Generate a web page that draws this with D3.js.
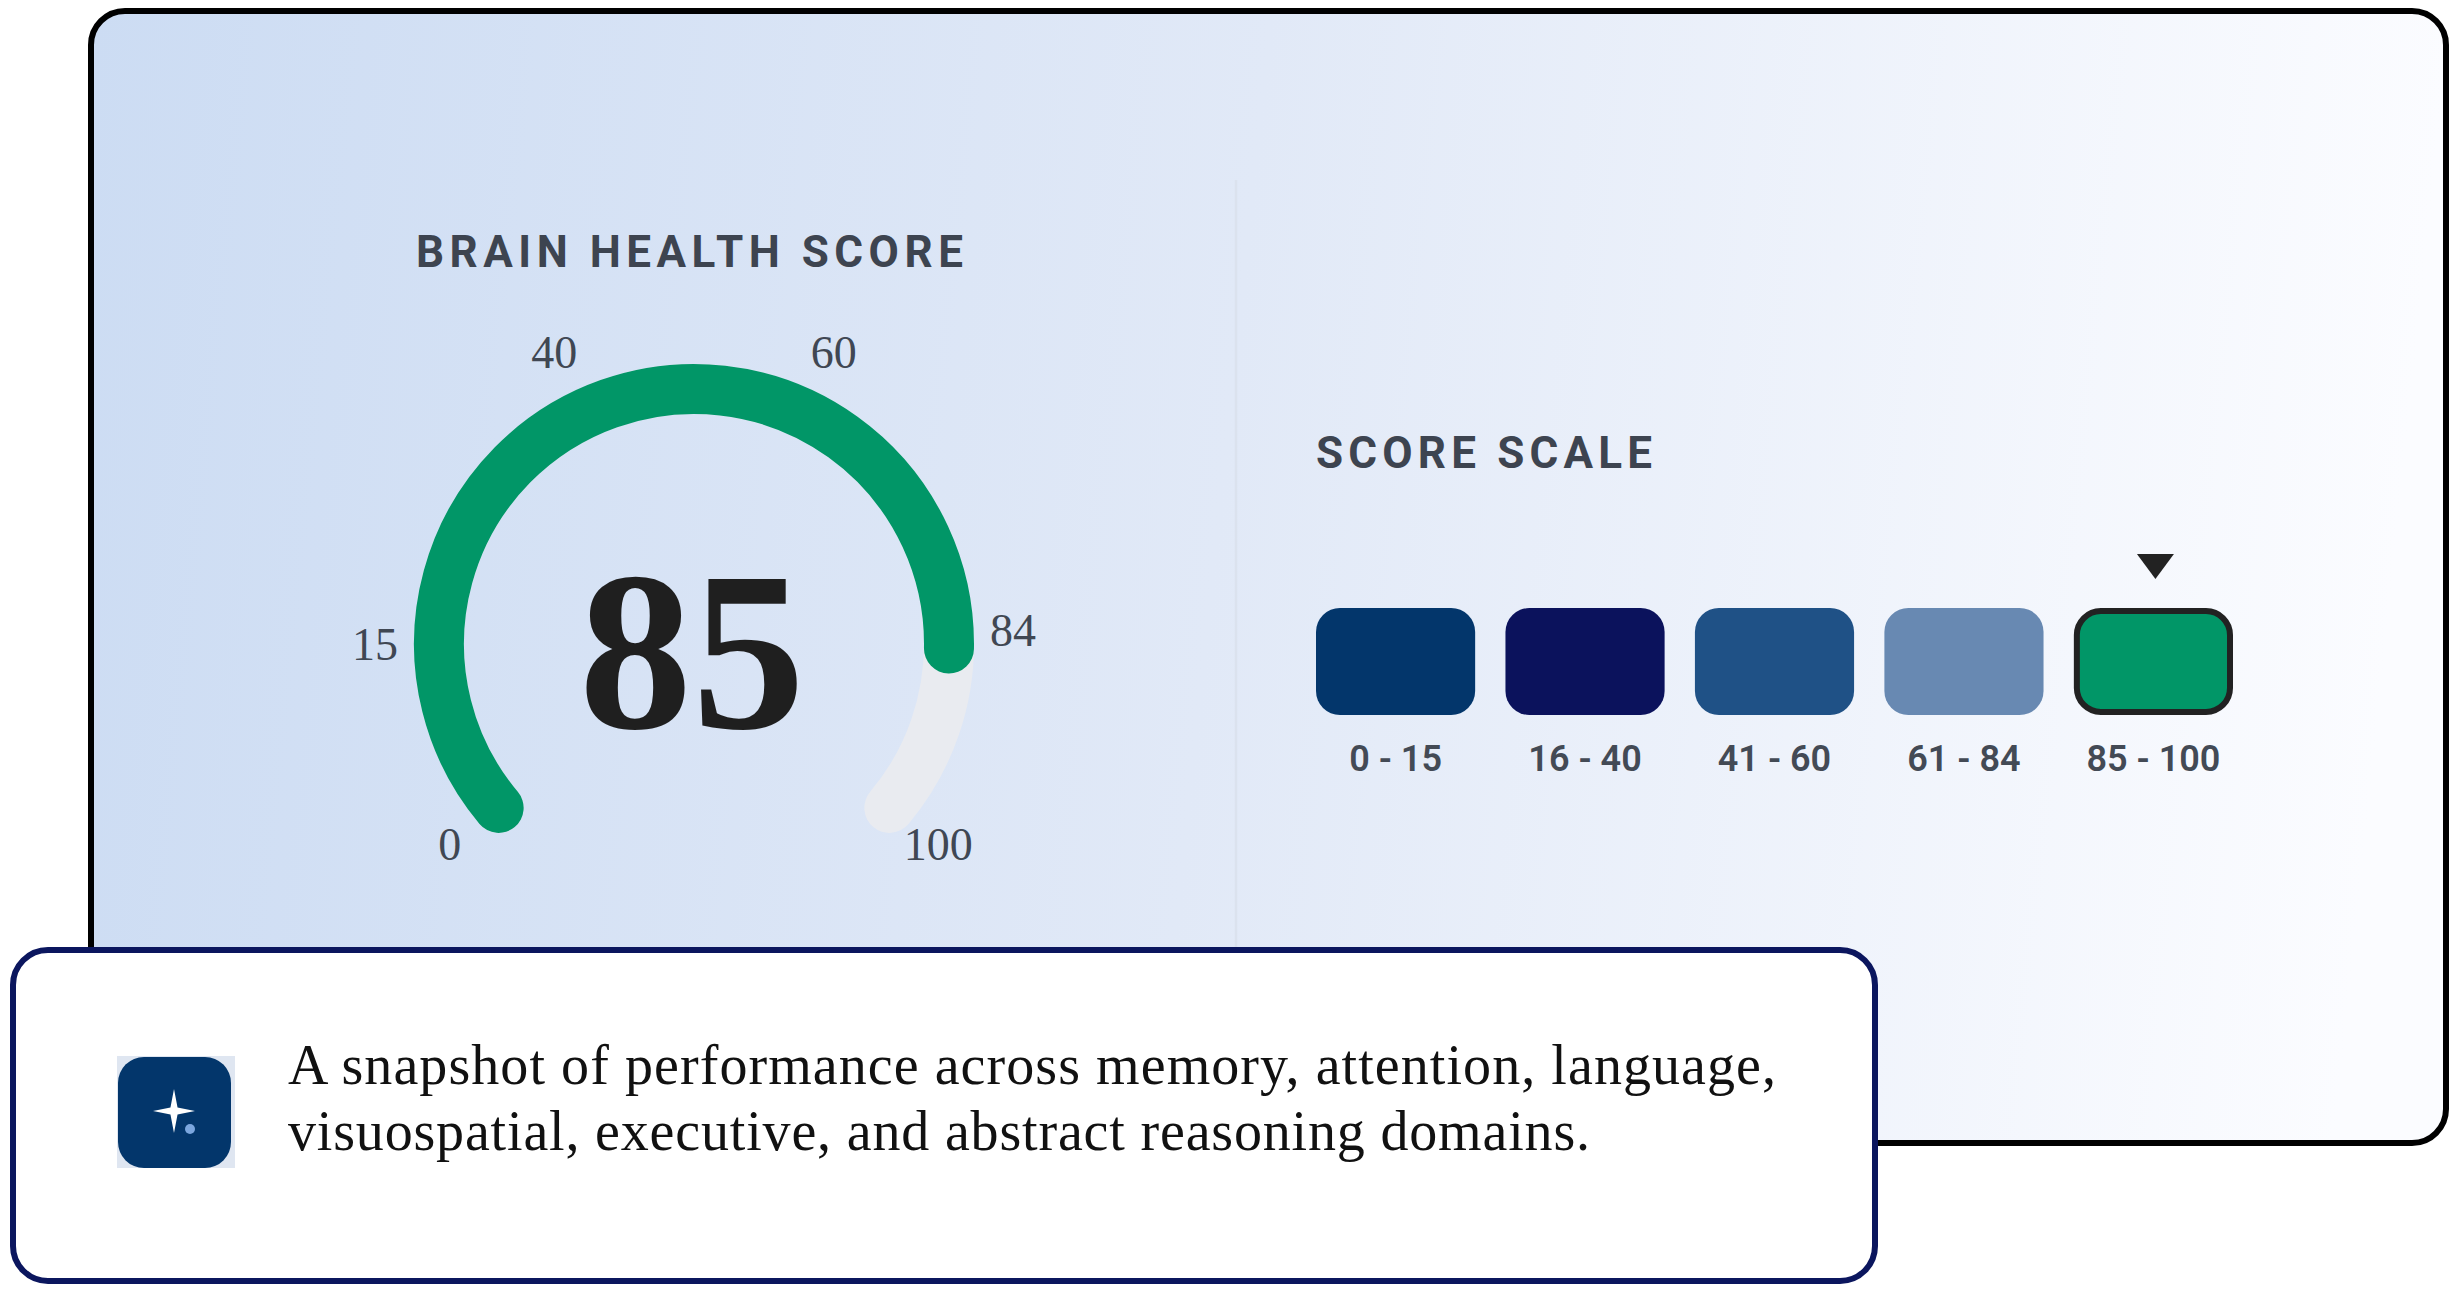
<!DOCTYPE html>
<html>
<head>
<meta charset="utf-8">
<script src="https://cdn.jsdelivr.net/npm/d3@7"></script>
<style>
  html, body { margin: 0; padding: 0; background: #fff; }
  svg { display: block; }
  .head { font-family: Roboto, sans-serif; font-weight: 700; fill: #3d4450; }
  .tick { font-family: "Liberation Serif", serif; font-size: 46px; fill: #404753; text-anchor: middle; }
  .range { font-family: Roboto, sans-serif; font-weight: 600; font-size: 36px; fill: #434a55; text-anchor: middle; }
  .note { font-family: "Liberation Serif", serif; font-size: 56px; fill: #111; }
</style>
</head>
<body>
<div id="chart"></div>
<script>
  // gauge data
  var score = 85;
  var gaugeMax = 100;
  var gaugeTicks = [0, 15, 40, 60, 84, 100];

  // score scale data
  var ranges = ["0 - 15", "16 - 40", "41 - 60", "61 - 84", "85 - 100"];
  var rangeColors = ["#03366b", "#0b125c", "#1f5186", "#6889b2", "#019667"];
  var activeRange = "85 - 100";

  var noteLines = [
    "A snapshot of performance across memory, attention, language,",
    "visuospatial, executive, and abstract reasoning domains."
  ];

  var width = 2461, height = 1295;

  var svg = d3.select("#chart").append("svg")
      .attr("width", width)
      .attr("height", height);

  var grad = svg.append("defs").append("linearGradient")
      .attr("id", "cardBg")
      .attr("x1", 0).attr("y1", 0).attr("x2", 1).attr("y2", 0.05);
  grad.append("stop").attr("offset", "0%").attr("stop-color", "#ccdcf3");
  grad.append("stop").attr("offset", "50%").attr("stop-color", "#e1e9f7");
  grad.append("stop").attr("offset", "100%").attr("stop-color", "#fbfcff");

  // main card
  svg.append("rect")
      .attr("x", 91).attr("y", 11)
      .attr("width", 2355).attr("height", 1132)
      .attr("rx", 34)
      .attr("fill", "url(#cardBg)")
      .attr("stroke", "#000")
      .attr("stroke-width", 6);

  // divider between the two panels
  svg.append("line")
      .attr("x1", 1236).attr("x2", 1236)
      .attr("y1", 180).attr("y2", 950)
      .attr("stroke", "#dbe2ee")
      .attr("stroke-width", 2.5);

  // gauge
  var cx = 694, cy = 644;
  var angle = d3.scaleLinear()
      .domain([0, gaugeMax])
      .range([-130 * Math.PI / 180, 130 * Math.PI / 180]);

  // open arc, so the stroke can end in round caps
  function arcPath(from, to) {
    var p = d3.path();
    p.arc(0, 0, 255, angle(from) - Math.PI / 2, angle(to) - Math.PI / 2);
    return p.toString();
  }

  var gauge = svg.append("g")
      .attr("transform", "translate(" + cx + "," + cy + ")");

  gauge.append("path")
      .attr("d", arcPath(0, gaugeMax))
      .attr("fill", "none")
      .attr("stroke", "#e9ebf0")
      .attr("stroke-width", 50)
      .attr("stroke-linecap", "round");

  gauge.append("path")
      .attr("d", arcPath(0, score))
      .attr("fill", "none")
      .attr("stroke", "#019667")
      .attr("stroke-width", 50)
      .attr("stroke-linecap", "round");

  gauge.selectAll(".tick")
      .data(gaugeTicks)
      .enter().append("text")
      .attr("class", "tick")
      .attr("x", function(d) { return 319 * Math.sin(angle(d)); })
      .attr("y", function(d) { return -319 * Math.cos(angle(d)) + 10.5; })
      .text(function(d) { return d; });

  gauge.append("text")
      .attr("x", -2).attr("y", 84)
      .attr("text-anchor", "middle")
      .style("font-family", '"Liberation Serif", serif')
      .style("font-weight", 700)
      .style("font-size", "226px")
      .style("fill", "#1f1f1f")
      .text(score);

  svg.append("text")
      .attr("class", "head")
      .attr("x", 416).attr("y", 267)
      .style("font-size", "44px")
      .style("letter-spacing", "5.5px")
      .text("BRAIN HEALTH SCORE");

  // score scale
  svg.append("text")
      .attr("class", "head")
      .attr("x", 1316).attr("y", 468)
      .style("font-size", "44px")
      .style("letter-spacing", "5.2px")
      .text("SCORE SCALE");

  var x = d3.scaleBand()
      .domain(ranges)
      .range([1316, 2233])
      .paddingInner(0.16);

  var swatch = svg.selectAll(".swatch")
      .data(ranges)
      .enter().append("g")
      .attr("class", "swatch")
      .attr("transform", function(d) { return "translate(" + x(d) + ",608)"; });

  swatch.append("rect")
      .attr("x", function(d) { return d === activeRange ? 3 : 0; })
      .attr("y", function(d) { return d === activeRange ? 3 : 0; })
      .attr("width", function(d) { return d === activeRange ? x.bandwidth() - 6 : x.bandwidth(); })
      .attr("height", function(d) { return d === activeRange ? 101 : 107; })
      .attr("rx", 24)
      .attr("fill", function(d, i) { return rangeColors[i]; })
      .attr("stroke", function(d) { return d === activeRange ? "#222" : "none"; })
      .attr("stroke-width", 6);

  swatch.append("text")
      .attr("class", "range")
      .attr("x", x.bandwidth() / 2)
      .attr("y", 163)
      .text(function(d) { return d; });

  // marker above the active range
  var mx = x(activeRange) + x.bandwidth() / 2 + 2;
  svg.append("path")
      .attr("d", d3.line()([[mx - 18.5, 554], [mx + 18.5, 554], [mx, 579]]) + "Z")
      .attr("fill", "#222");

  // note card
  svg.append("rect")
      .attr("x", 13).attr("y", 950)
      .attr("width", 1862).attr("height", 331)
      .attr("rx", 35)
      .attr("fill", "#fff")
      .attr("stroke", "#0b165e")
      .attr("stroke-width", 6);

  // icon
  svg.append("rect")
      .attr("x", 117).attr("y", 1056)
      .attr("width", 118).attr("height", 112)
      .attr("fill", "#dfe6f1");
  svg.append("rect")
      .attr("x", 118).attr("y", 1057)
      .attr("width", 113).attr("height", 111)
      .attr("rx", 26)
      .attr("fill", "#03366b");

  var star = d3.lineRadial()
      .curve(d3.curveLinearClosed)
      .angle(function(d, i) { return i * Math.PI / 4; })
      .radius(function(d) { return d; });
  svg.append("path")
      .attr("transform", "translate(174,1111)")
      .attr("d", star([22, 5, 21, 5, 22, 5, 21, 5]))
      .attr("fill", "#fff");
  svg.append("circle")
      .attr("cx", 190).attr("cy", 1129).attr("r", 5)
      .attr("fill", "#7ba6de");

  svg.selectAll(".note")
      .data(noteLines)
      .enter().append("text")
      .attr("class", "note")
      .attr("x", 288)
      .attr("y", function(d, i) { return 1084 + i * 66; })
      .attr("textLength", function(d, i) { return i === 0 ? 1488 : 1302; })
      .text(function(d) { return d; });
</script>
</body>
</html>
